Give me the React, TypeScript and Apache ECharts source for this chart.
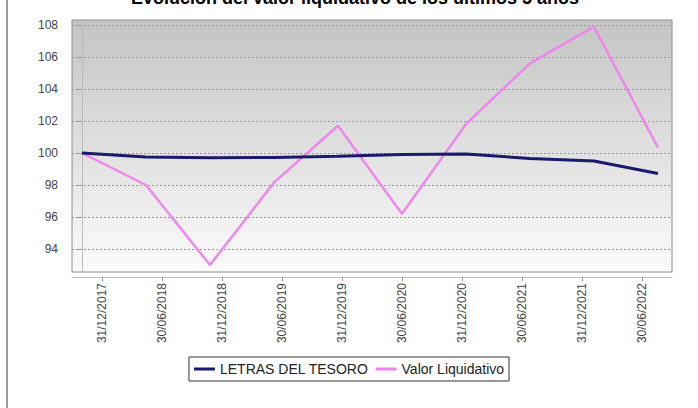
import React, { useEffect, useRef } from "react";
import * as echarts from "echarts";

const dateLabels = [
  "31/12/2017", "30/06/2018", "31/12/2018", "30/06/2019", "31/12/2019",
  "30/06/2020", "31/12/2020", "30/06/2021", "31/12/2021", "30/06/2022",
];
const letras = [100.0, 99.75, 99.7, 99.72, 99.8, 99.9, 99.93, 99.66, 99.5, 98.72];
const valorLiquidativo = [100.0, 98.0, 93.0, 98.15, 101.7, 96.2, 101.8, 105.6, 107.9, 100.35];
const yTicks = [94, 96, 98, 100, 102, 104, 106, 108];
const seriesNames = ["LETRAS DEL TESORO", "Valor Liquidativo"];
const titleText = "Evolución del valor liquidativo de los últimos 5 años";

export default function App() {
  const ref = useRef<HTMLDivElement>(null);
  useEffect(() => {
    if (!ref.current) return;
    const chart = echarts.init(ref.current, null, { renderer: "svg" });
    const font = "'Liberation Sans', Arial, sans-serif";
    chart.setOption({
      animation: false,
      backgroundColor: "#ffffff",
      title: {
        text: titleText,
        left: 355,
        textAlign: "center",
        top: -11,
        padding: 0,
        textStyle: { fontSize: 18, fontWeight: "bold", color: "#000", fontFamily: font },
      },
      graphic: [
        { type: "rect", shape: { x: 6, y: 0, width: 2, height: 408 }, style: { fill: "#9a9a9a" }, silent: true },
      ],
      legend: {
        data: seriesNames,
        left: "center",
        top: 357,
        padding: [5, 5, 5, 5],
        borderColor: "#333",
        borderWidth: 1,
        backgroundColor: "#fff",
        itemWidth: 21,
        itemHeight: 3,
        itemGap: 7,
        icon: "rect",
        textStyle: { fontSize: 14, color: "#222", fontFamily: font },
      },
      grid: {
        left: 72,
        top: 20,
        width: 600,
        height: 252,
        show: true,
        borderColor: "#8a8a8a",
        borderWidth: 1,
        backgroundColor: new echarts.graphic.LinearGradient(0, 0, 0, 1, [
          { offset: 0, color: "#c4c4c4" },
          { offset: 1, color: "#fbfbfb" },
        ]),
      },
      xAxis: [
        {
          type: "value",
          min: -0.156,
          max: 9.22,
          show: false,
          position: "top",
        },
        {
          type: "category",
          data: dateLabels,
          position: "bottom",
          offset: 5,
          boundaryGap: true,
          axisLine: { show: true, lineStyle: { color: "#bbbbbb", width: 1 } },
          axisTick: { show: true, alignWithLabel: true, length: 4, lineStyle: { color: "#999" } },
          axisLabel: { rotate: 90, margin: 6, fontSize: 12, color: "#444", fontFamily: font },
          splitLine: { show: false },
        },
      ],
      yAxis: {
        type: "value",
        min: 92.5625,
        max: 108.3125,
        splitNumber: 8,
        offset: 5,
        axisLine: { show: true, lineStyle: { color: "#bbbbbb", width: 1 } },
        axisTick: { show: true, length: 4, lineStyle: { color: "#999" }, customValues: yTicks },
        axisLabel: { fontSize: 12, color: "#444", fontFamily: font, margin: 9, customValues: yTicks },
        splitLine: { show: true, lineStyle: { color: "#9a9a9a", type: [2, 2], width: 1 } },
      },
      series: [
        {
          name: seriesNames[0],
          type: "line",
          xAxisIndex: 0,
          data: letras.map((v, i) => [i, v]),
          showSymbol: false,
          symbol: "none",
          itemStyle: { color: "#1a1a6c" },
          lineStyle: { color: "#1a1a6c", width: 3 },
          z: 3,
        },
        {
          name: seriesNames[1],
          type: "line",
          xAxisIndex: 0,
          data: valorLiquidativo.map((v, i) => [i, v]),
          showSymbol: false,
          symbol: "none",
          itemStyle: { color: "#ee86ee" },
          lineStyle: { color: "#ee86ee", width: 2.5 },
          z: 2,
        },
      ],
    });
    return () => chart.dispose();
  }, []);
  return (
    <div
      ref={ref}
      style={{ position: "fixed", left: 0, top: 0, width: 698, height: 408 }}
    />
  );
}
